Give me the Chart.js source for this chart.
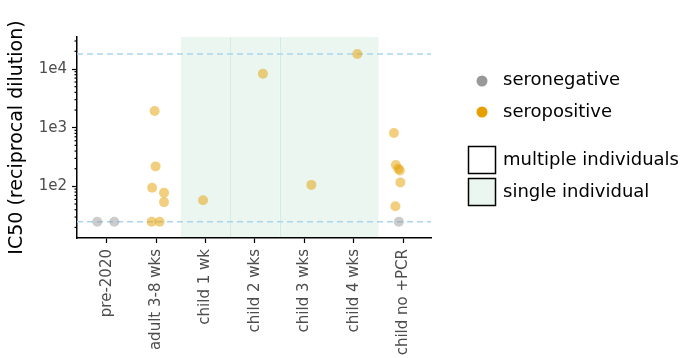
<!DOCTYPE html>
<html>
<head>
<meta charset="utf-8">
<script src="https://cdn.jsdelivr.net/npm/chart.js@4/dist/chart.umd.min.js"></script>
<style>
  body { margin: 0; background: #fff; }
</style>
</head>
<body>
<canvas id="myChart" width="681" height="358"></canvas>
<script>
const categories = ["pre-2020", "adult 3-8 wks", "child 1 wk", "child 2 wks", "child 3 wks", "child 4 wks", "child no +PCR"];

// seronegative points: category index, IC50, horizontal jitter
const negGroup = [0, 0, 6];
const negValues = [25, 25, 25];
const negJitter = [-0.19, 0.155, -0.09];

// seropositive points
const posGroup = [1, 1, 1, 1, 1, 1, 1, 2, 3, 4, 5, 6, 6, 6, 6, 6, 6];
const posValues = [1925, 219, 95, 78, 54, 25, 25, 58, 8300, 106, 18000, 810, 232, 200, 186, 117, 46];
const posJitter = [-0.03, -0.01, -0.08, 0.16, 0.16, -0.09, 0.07, -0.05, 0.16, 0.14, 0.07, -0.19, -0.15, -0.1, -0.07, -0.06, -0.16];

const yTickValues = [100, 1000, 10000];
const yTickLabels = ["1e2", "1e3", "1e4"];
const limitLines = [25, 18000];          // dashed reference lines
const singleRanges = [[1.5, 2.5], [2.5, 3.5], [3.5, 5.5]]; // "single individual" panels
const legendLabels = ["seronegative", "seropositive", "multiple individuals", "single individual"];

const toPoints = (groups, values, jitter) =>
  groups.map((g, i) => ({ x: g + jitter[i], y: values[i] }));

const SHADE = "#ebf6f1";

const decorPlugin = {
  id: "decor",
  beforeDraw(chart) {
    const { ctx, chartArea, scales } = chart;
    const x = scales.x;
    ctx.save();
    singleRanges.forEach(([a, b]) => {
      const x0 = x.getPixelForValue(a), x1 = x.getPixelForValue(b);
      ctx.fillStyle = SHADE;
      ctx.fillRect(x0, chartArea.top, x1 - x0, chartArea.bottom - chartArea.top);
    });
    // thin separators between panels
    ctx.strokeStyle = "#d4ede2";
    ctx.lineWidth = 1;
    singleRanges.slice(1).forEach(([a]) => {
      const px = Math.round(x.getPixelForValue(a)) + 0.5;
      ctx.beginPath();
      ctx.moveTo(px, chartArea.top);
      ctx.lineTo(px, chartArea.bottom);
      ctx.stroke();
    });
    ctx.restore();
  },
  beforeDatasetsDraw(chart) {
    const { ctx, chartArea, scales } = chart;
    const y = scales.y;
    ctx.save();
    // dashed limit lines
    ctx.strokeStyle = "#a9d6ec";
    ctx.lineWidth = 1.5;
    ctx.setLineDash([6, 4]);
    limitLines.forEach(v => {
      const py = y.getPixelForValue(v);
      ctx.beginPath();
      ctx.moveTo(chartArea.left, py);
      ctx.lineTo(chartArea.right, py);
      ctx.stroke();
    });
    ctx.setLineDash([]);
    // minor log ticks
    ctx.strokeStyle = "#000";
    ctx.lineWidth = 1.2;
    for (let d = 1; d <= 4; d++) {
      for (let k = 2; k <= 9; k++) {
        const v = k * Math.pow(10, d);
        if (v < y.min || v > y.max) continue;
        const py = y.getPixelForValue(v);
        ctx.beginPath();
        ctx.moveTo(chartArea.left - 2.5, py);
        ctx.lineTo(chartArea.left, py);
        ctx.stroke();
      }
    }
    ctx.restore();
  },
  afterDraw(chart) {
    const ctx = chart.ctx;
    ctx.save();
    ctx.font = "18px 'DejaVu Sans'";
    ctx.fillStyle = "#000";
    ctx.textBaseline = "middle";
    // point keys
    [["#999999", 81], ["#E69F00", 112]].forEach(([c, cy]) => {
      ctx.fillStyle = c;
      ctx.beginPath();
      ctx.arc(482, cy, 5.5, 0, Math.PI * 2);
      ctx.fill();
    });
    // box keys
    ctx.lineWidth = 1.5;
    ctx.strokeStyle = "#000";
    [["#ffffff", 146.5], [SHADE, 178.5]].forEach(([c, top]) => {
      ctx.fillStyle = c;
      ctx.fillRect(468.5, top, 27, 27);
      ctx.strokeRect(468.5, top, 27, 27);
    });
    ctx.fillStyle = "#000";
    [80, 112, 160, 192].forEach((cy, i) => ctx.fillText(legendLabels[i], 503, cy));
    ctx.restore();
  }
};

const ctx = document.getElementById("myChart");

new Chart(ctx, {
  type: "scatter",
  data: {
    datasets: [
      {
        label: "seronegative",
        data: toPoints(negGroup, negValues, negJitter),
        backgroundColor: "rgba(153, 153, 153, 0.5)",
        borderWidth: 0,
        pointRadius: 5,
      },
      {
        label: "seropositive",
        data: toPoints(posGroup, posValues, posJitter),
        backgroundColor: "rgba(230, 159, 0, 0.5)",
        borderWidth: 0,
        pointRadius: 5,
      },
    ],
  },
  options: {
    responsive: false,
    animation: false,
    devicePixelRatio: 1,
    layout: { padding: { top: 37, right: 250, left: 0, bottom: 0 } },
    scales: {
      x: {
        type: "linear",
        min: -0.6,
        max: 6.56,
        afterBuildTicks: s => { s.ticks = categories.map((_, i) => ({ value: i })); },
        afterFit: s => { s.height = 120; },
        grid: { drawOnChartArea: false, tickLength: 5, tickColor: "#000", tickWidth: 1.2 },
        border: { color: "#000", width: 1.5 },
        ticks: {
          minRotation: 90,
          maxRotation: 90,
          padding: 6,
          color: "#4d4d4d",
          font: { family: "'DejaVu Sans'", size: 15 },
          callback: v => categories[v],
        },
      },
      y: {
        type: "logarithmic",
        min: 13.2,
        max: 35100,
        afterBuildTicks: s => { s.ticks = yTickValues.map(v => ({ value: v })); },
        afterFit: s => { s.width = 77; },
        grid: { drawOnChartArea: false, tickLength: 5, tickColor: "#000", tickWidth: 1.2 },
        border: { color: "#000", width: 1.5 },
        ticks: {
          padding: 5,
          color: "#4d4d4d",
          font: { family: "'DejaVu Sans'", size: 15 },
          callback: v => yTickLabels[yTickValues.indexOf(v)],
        },
        title: {
          display: true,
          text: "IC50 (reciprocal dilution)",
          color: "#000",
          font: { family: "'DejaVu Sans'", size: 19 },
          padding: { top: 6, bottom: 0 },
        },
      },
    },
    plugins: {
      legend: { display: false },
      tooltip: { enabled: false },
    },
  },
  plugins: [decorPlugin],
});
</script>
</body>
</html>
